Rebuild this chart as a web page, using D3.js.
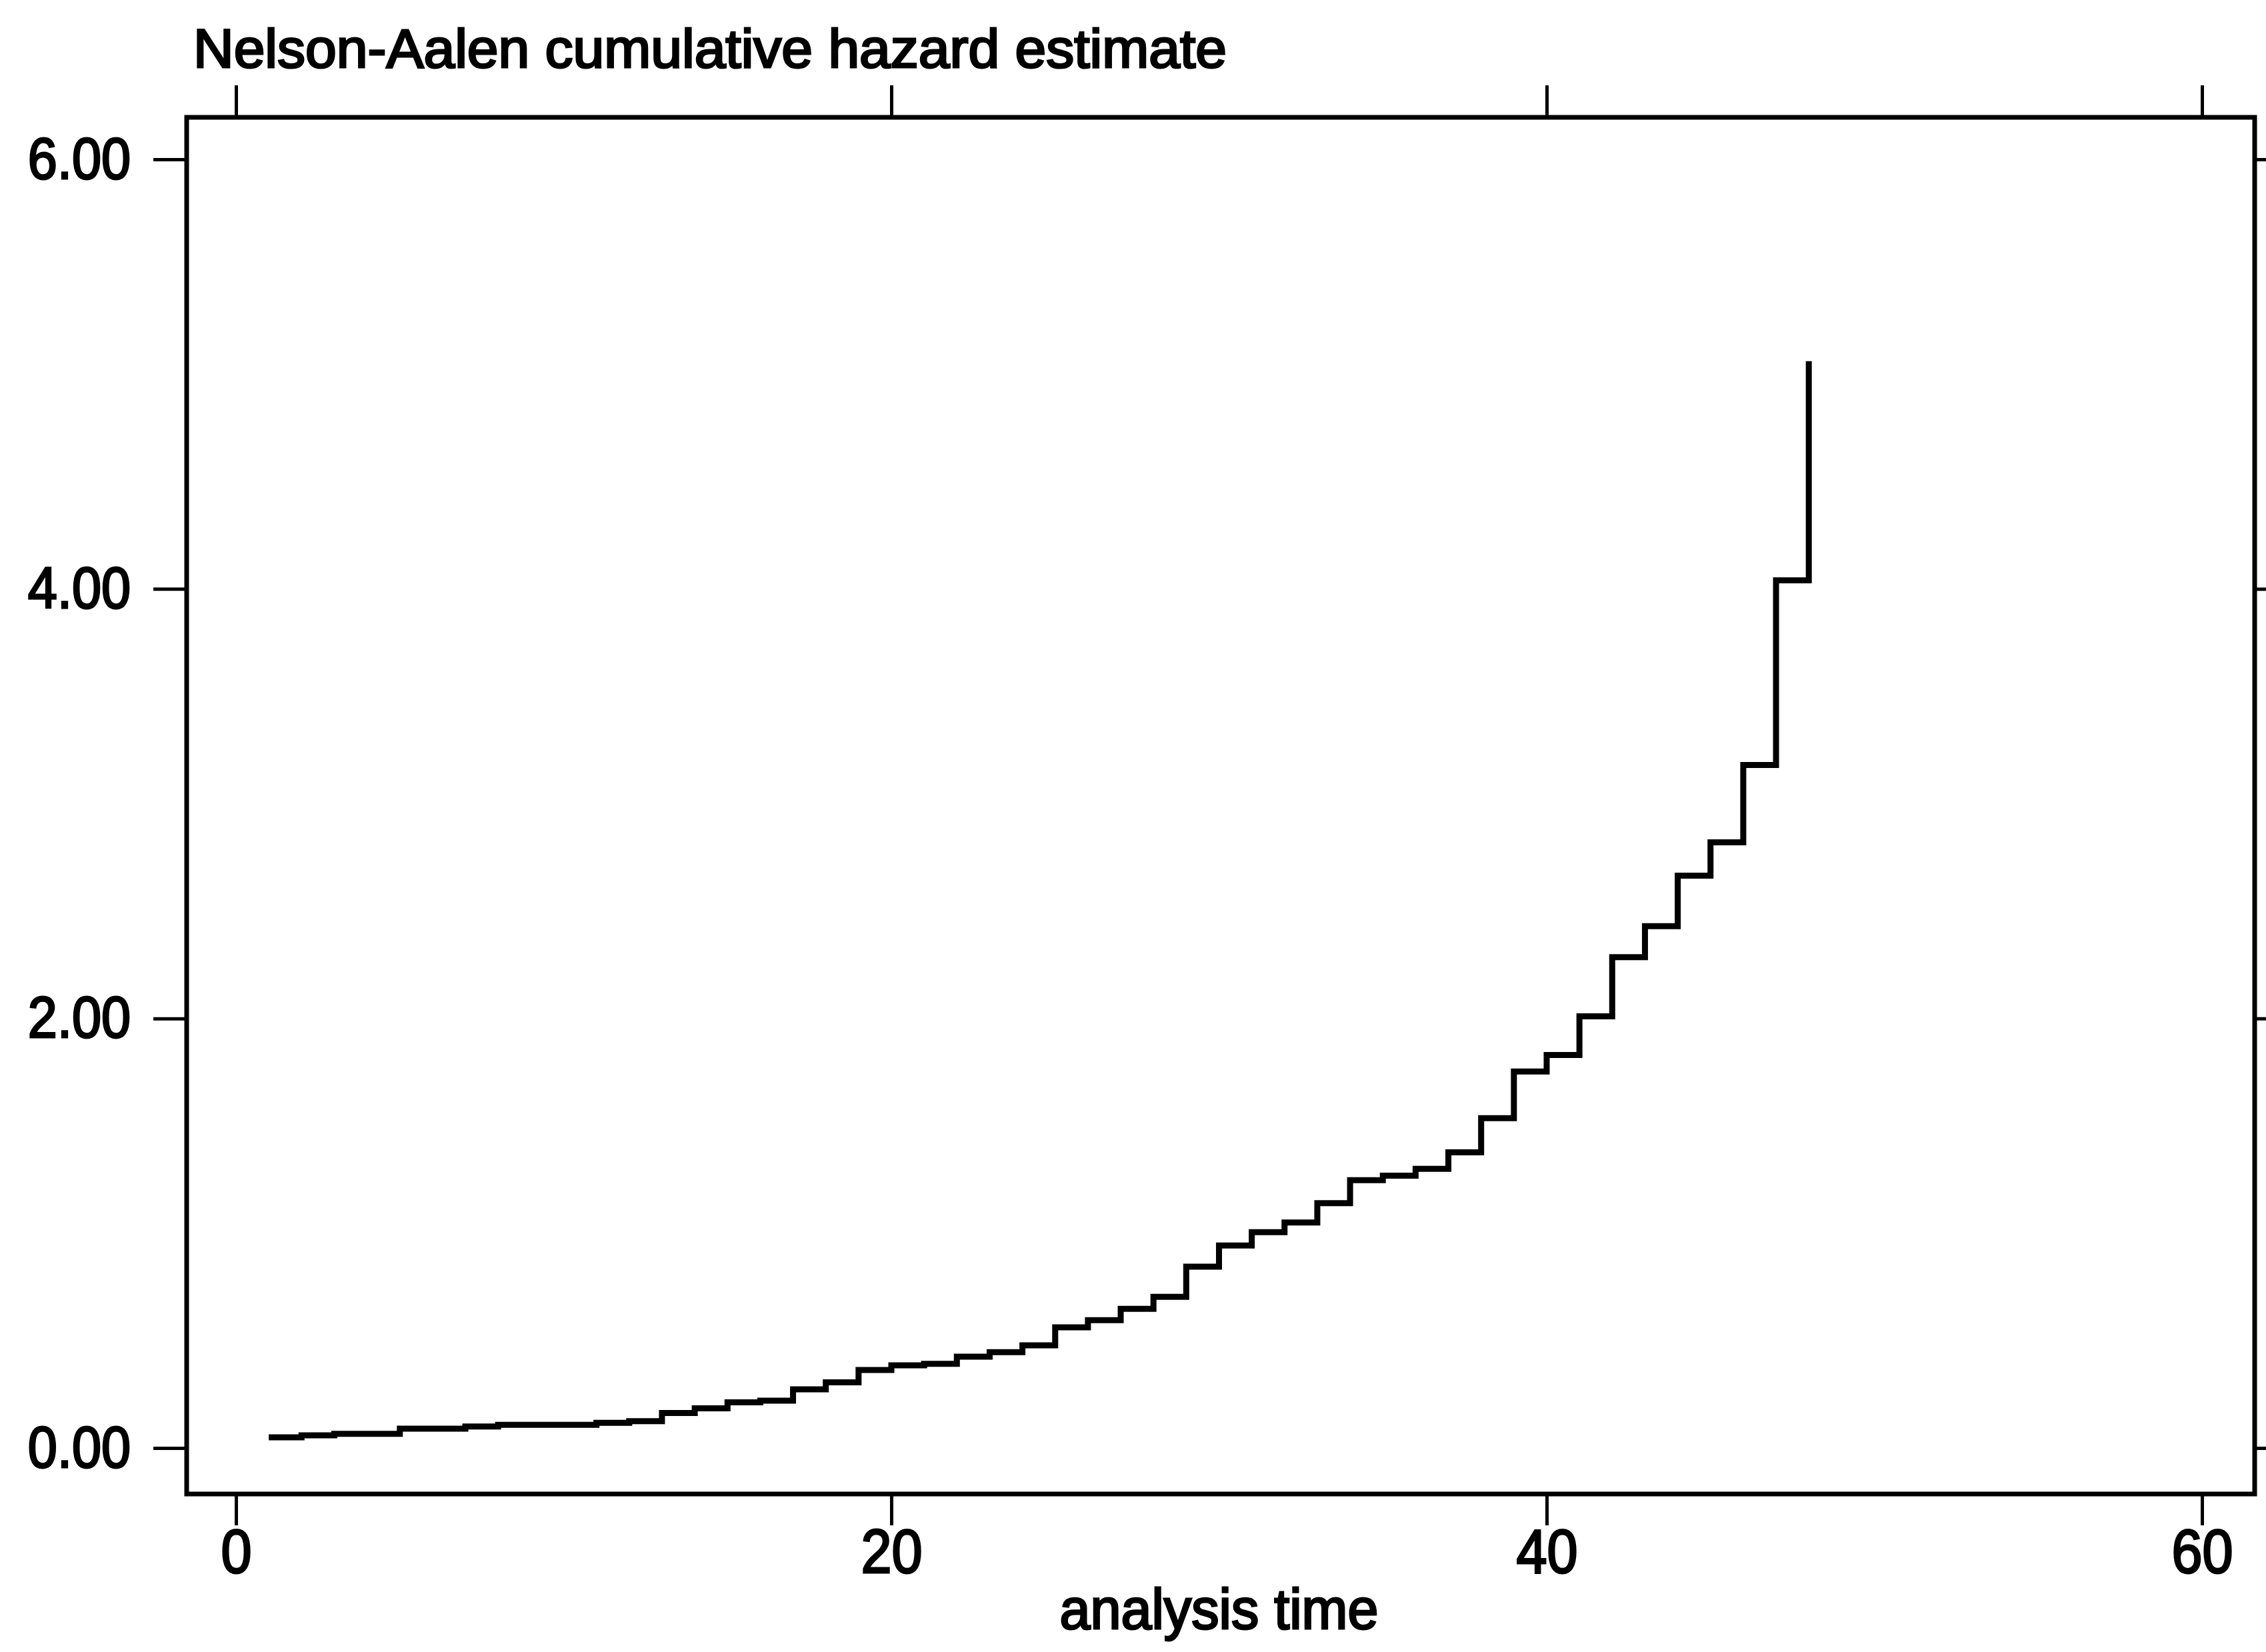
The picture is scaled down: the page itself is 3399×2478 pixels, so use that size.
<!DOCTYPE html>
<html>
<head>
<meta charset="utf-8">
<script src="https://cdn.jsdelivr.net/npm/d3@7"></script>
<style>
  body { margin: 0; background: #fff; }
  text { font-family: "Liberation Sans", Arial, sans-serif; fill: #000; }
</style>
</head>
<body>
<div id="app"></div>
<script>
const WIDTH = 3399;
const HEIGHT = 2478;

// Nelson-Aalen estimate (analysis time -> cumulative hazard)
const times = [1, 2, 3, 5, 7, 8, 11, 12, 13, 14, 15, 16, 17, 18, 19, 20, 21, 22, 23, 24,
  25, 26, 27, 28, 29, 30, 31, 32, 33, 34, 35, 36, 37, 38, 39, 40, 41, 42, 43, 44, 45, 46, 47, 48];
const hazard = [0.050, 0.059, 0.066, 0.090, 0.100, 0.108, 0.117, 0.125, 0.163, 0.185, 0.213,
  0.220, 0.273, 0.306, 0.363, 0.385, 0.392, 0.425, 0.446, 0.478, 0.562, 0.595, 0.648, 0.704,
  0.844, 0.943, 1.005, 1.050, 1.140, 1.247, 1.268, 1.300, 1.377, 1.536, 1.753, 1.830, 2.010,
  2.285, 2.430, 2.665, 2.820, 3.180, 4.040, 5.060];

const xTicks = [0, 20, 40, 60];
const yTicks = [0, 2, 4, 6];
const titleText = "Nelson-Aalen cumulative hazard estimate";
const xTitle = "analysis time";

const FRAME = { left: 280, right: 3382, top: 176, bottom: 2241 };
const CONDENSE = 0.9;
const TEXT_STROKE = 3;

const x = d3.scaleLinear().domain([0, 60]).range([354, 3303]);
const y = d3.scaleLinear().domain([0, 6]).range([2172, 239]);

const svg = d3.select("#app")
  .append("svg")
  .attr("width", WIDTH)
  .attr("height", HEIGHT)
  .attr("viewBox", `0 0 ${WIDTH} ${HEIGHT}`);

svg.append("rect")
  .attr("width", WIDTH)
  .attr("height", HEIGHT)
  .attr("fill", "#fff");

// plot frame
svg.append("rect")
  .attr("x", FRAME.left)
  .attr("y", FRAME.top)
  .attr("width", FRAME.right - FRAME.left)
  .attr("height", FRAME.bottom - FRAME.top)
  .attr("fill", "none")
  .attr("stroke", "#000")
  .attr("stroke-width", 7);

function styleAxis(g, size) {
  g.select(".domain").remove();
  g.selectAll(".tick line").attr("stroke", "#000").attr("stroke-width", 5);
  g.selectAll(".tick text")
    .classed("cond", true)
    .style("font-size", size + "px")
    .attr("stroke", "#000")
    .attr("stroke-width", TEXT_STROKE);
}

svg.append("g")
  .attr("transform", `translate(0,${FRAME.bottom})`)
  .call(d3.axisBottom(x).tickValues(xTicks).tickSize(47).tickPadding(6).tickFormat(d3.format("d")))
  .call((g) => styleAxis(g, 92));

svg.append("g")
  .attr("transform", `translate(0,${FRAME.top})`)
  .call(d3.axisTop(x).tickValues(xTicks).tickSize(48).tickFormat(""))
  .call((g) => styleAxis(g, 92));

svg.append("g")
  .attr("transform", `translate(${FRAME.left},0)`)
  .call(d3.axisLeft(y).tickValues(yTicks).tickSize(50).tickPadding(34).tickFormat(d3.format(".2f")))
  .call((g) => styleAxis(g, 88));

svg.append("g")
  .attr("transform", `translate(${FRAME.right},0)`)
  .call(d3.axisRight(y).tickValues(yTicks).tickSize(30).tickFormat(""))
  .call((g) => styleAxis(g, 88));

// step curve
const points = times.map((t, i) => [t, hazard[i]]);
const line = d3.line()
  .x((d) => x(d[0]))
  .y((d) => y(d[1]))
  .curve(d3.curveStepAfter);

svg.append("path")
  .datum(points)
  .attr("d", line)
  .attr("fill", "none")
  .attr("stroke", "#000")
  .attr("stroke-width", 9)
  .attr("stroke-linejoin", "miter");

// titles
svg.append("text")
  .attr("x", 290)
  .attr("y", 101)
  .style("font-size", "82px")
  .attr("stroke", "#000")
  .attr("stroke-width", TEXT_STROKE)
  .attr("textLength", 1550)
  .attr("lengthAdjust", "spacingAndGlyphs")
  .text(titleText);

svg.append("text")
  .attr("x", (x(0) + x(60)) / 2)
  .attr("y", 2443)
  .attr("text-anchor", "middle")
  .style("font-size", "86px")
  .attr("stroke", "#000")
  .attr("stroke-width", TEXT_STROKE)
  .attr("textLength", 478)
  .attr("lengthAdjust", "spacingAndGlyphs")
  .text(xTitle);

// the scan's lettering is a bit narrower than plain Arial
svg.selectAll("text.cond").each(function () {
  const len = this.getComputedTextLength();
  d3.select(this)
    .attr("textLength", len * CONDENSE)
    .attr("lengthAdjust", "spacingAndGlyphs");
});
</script>
</body>
</html>
